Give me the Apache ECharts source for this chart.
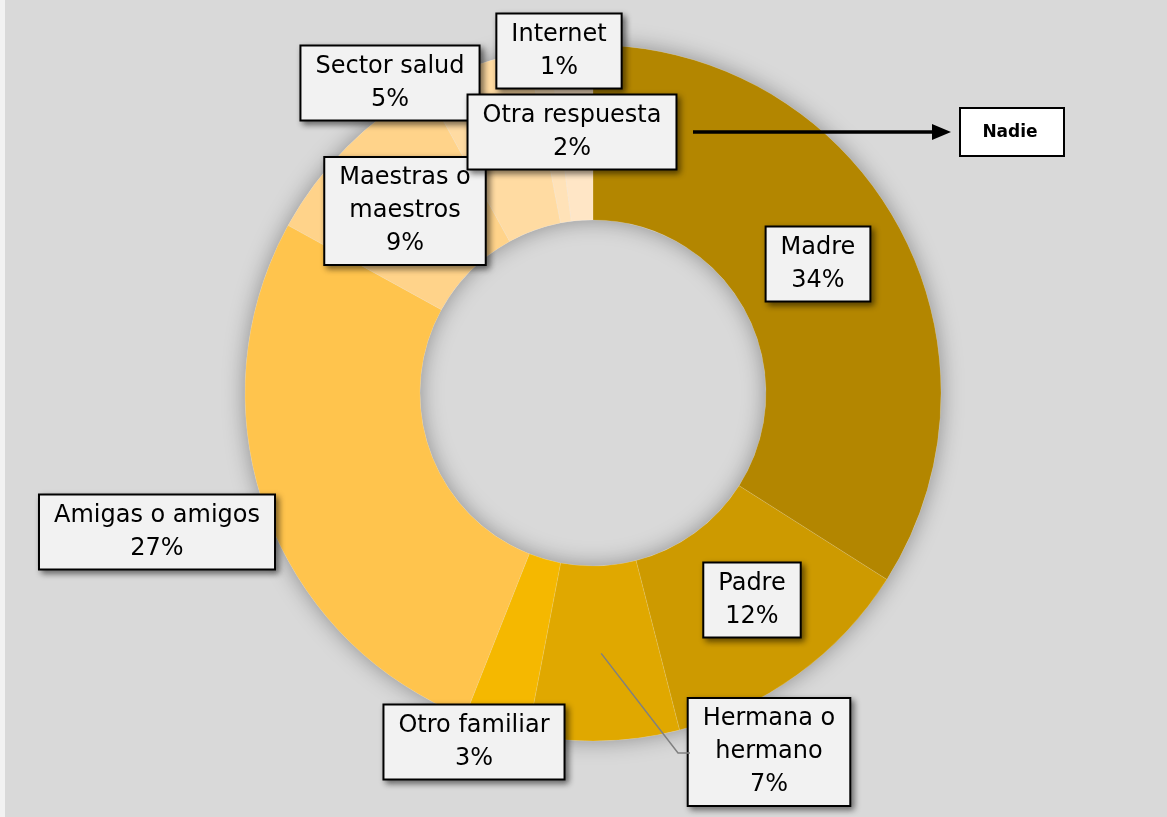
<!DOCTYPE html>
<html>
<head>
<meta charset="utf-8">
<script src="https://cdn.jsdelivr.net/npm/echarts@6/dist/echarts.min.js"></script>
<style>
html, body { margin: 0; padding: 0; background: #d9d9d9; }
#donut { width: 1167px; height: 817px; }
</style>
</head>
<body>
<div id="donut"></div>
<script>
// datos del gráfico
var categorias = ['Madre', 'Padre', 'Hermana o\nhermano', 'Otro familiar', 'Amigas o amigos',
    'Maestras o\nmaestros', 'Sector salud', 'Internet', 'Otra respuesta'];
var porcentajes = [34, 12, 7, 3, 27, 9, 5, 1, 2];
var colores = ['#b38600', '#cd9a00', '#e0a800', '#f5b800', '#ffc44d',
    '#ffd38a', '#ffdba2', '#ffe2b8', '#ffe6c6'];
var nota = 'Nadie';

// posiciones de las etiquetas (centro de cada caja)
var posEtiquetas = [[818, 264], [752, 600], [769, 752], [474, 742], [157, 532],
    [405, 211], [390, 83], [559, 51], [572, 132]];

var cx = 593, cy = 393, r0 = 173, r1 = 348;

// línea guía de "Hermana o hermano" desde el centro del sector
var total = porcentajes.reduce(function (a, b) { return a + b; }, 0);
var acum = 0;
for (var i = 0; i < 2; i++) acum += porcentajes[i];
var theta = (acum + porcentajes[2] / 2) / total * Math.PI * 2;
var rm = (r0 + r1) / 2;
var ini = [cx + rm * Math.sin(theta), cy - rm * Math.cos(theta)];

var myChart = echarts.init(document.getElementById('donut'));
var option = {
    backgroundColor: '#d9d9d9',
    animation: false,
    textStyle: { fontFamily: 'DejaVu Sans' },
    graphic: [
        { type: 'rect', shape: { x: 0, y: 0, width: 5, height: 817 }, style: { fill: '#f2f2f2' }, z: 100 },
        {
            type: 'polyline', z: 10,
            shape: { points: [ini, [678, 753], [690, 753]] },
            style: { stroke: '#808080', lineWidth: 1.5, fill: null }
        },
        {
            type: 'line', z: 50,
            shape: { x1: 693, y1: 132, x2: 936, y2: 132 },
            style: { stroke: '#000', lineWidth: 3.5 }
        },
        {
            type: 'polygon', z: 50,
            shape: { points: [[932, 124], [951, 132], [932, 140]] },
            style: { fill: '#000' }
        },
        {
            type: 'rect', z: 50,
            shape: { x: 960, y: 108, width: 104, height: 48 },
            style: { fill: '#fff', stroke: '#000', lineWidth: 2 }
        },
        {
            type: 'text', z: 51, x: 1010, y: 133,
            style: {
                text: nota, fill: '#000', fontSize: 17, fontWeight: 'bold',
                fontFamily: 'DejaVu Sans',
                align: 'center', verticalAlign: 'middle'
            }
        }
    ],
    series: [
        {
            // sombra del anillo
            type: 'pie', silent: true, z: 0,
            center: [cx, cy], radius: [r0, r1],
            label: { show: false }, labelLine: { show: false },
            data: [{ value: 1, itemStyle: { color: '#d9d9d9' } }],
            itemStyle: { shadowBlur: 22, shadowColor: 'rgba(0,0,0,0.35)' }
        },
        {
            type: 'pie', z: 2,
            center: [cx, cy], radius: [r0, r1],
            startAngle: 90, clockwise: true,
            avoidLabelOverlap: false,
            itemStyle: { borderColor: 'rgba(255,255,255,0.2)', borderWidth: 0.6 },
            label: {
                show: true, position: 'outside',
                formatter: function (p) { return p.name + '\n' + p.value + '%'; },
                color: '#000', fontSize: 24, lineHeight: 33,
                fontFamily: 'DejaVu Sans',
                backgroundColor: '#f2f2f2', borderColor: '#000', borderWidth: 2,
                padding: [4, 14, 3, 14], align: 'center',
                shadowColor: 'rgba(0,0,0,0.45)', shadowBlur: 6,
                shadowOffsetX: 3, shadowOffsetY: 3
            },
            labelLine: { show: false },
            labelLayout: function (p) {
                var q = posEtiquetas[p.dataIndex];
                return { x: q[0], y: q[1], align: 'center', verticalAlign: 'middle' };
            },
            data: categorias.map(function (c, i) {
                return { name: c, value: porcentajes[i], itemStyle: { color: colores[i] } };
            })
        }
    ]
};
myChart.setOption(option);
</script>
</body>
</html>
